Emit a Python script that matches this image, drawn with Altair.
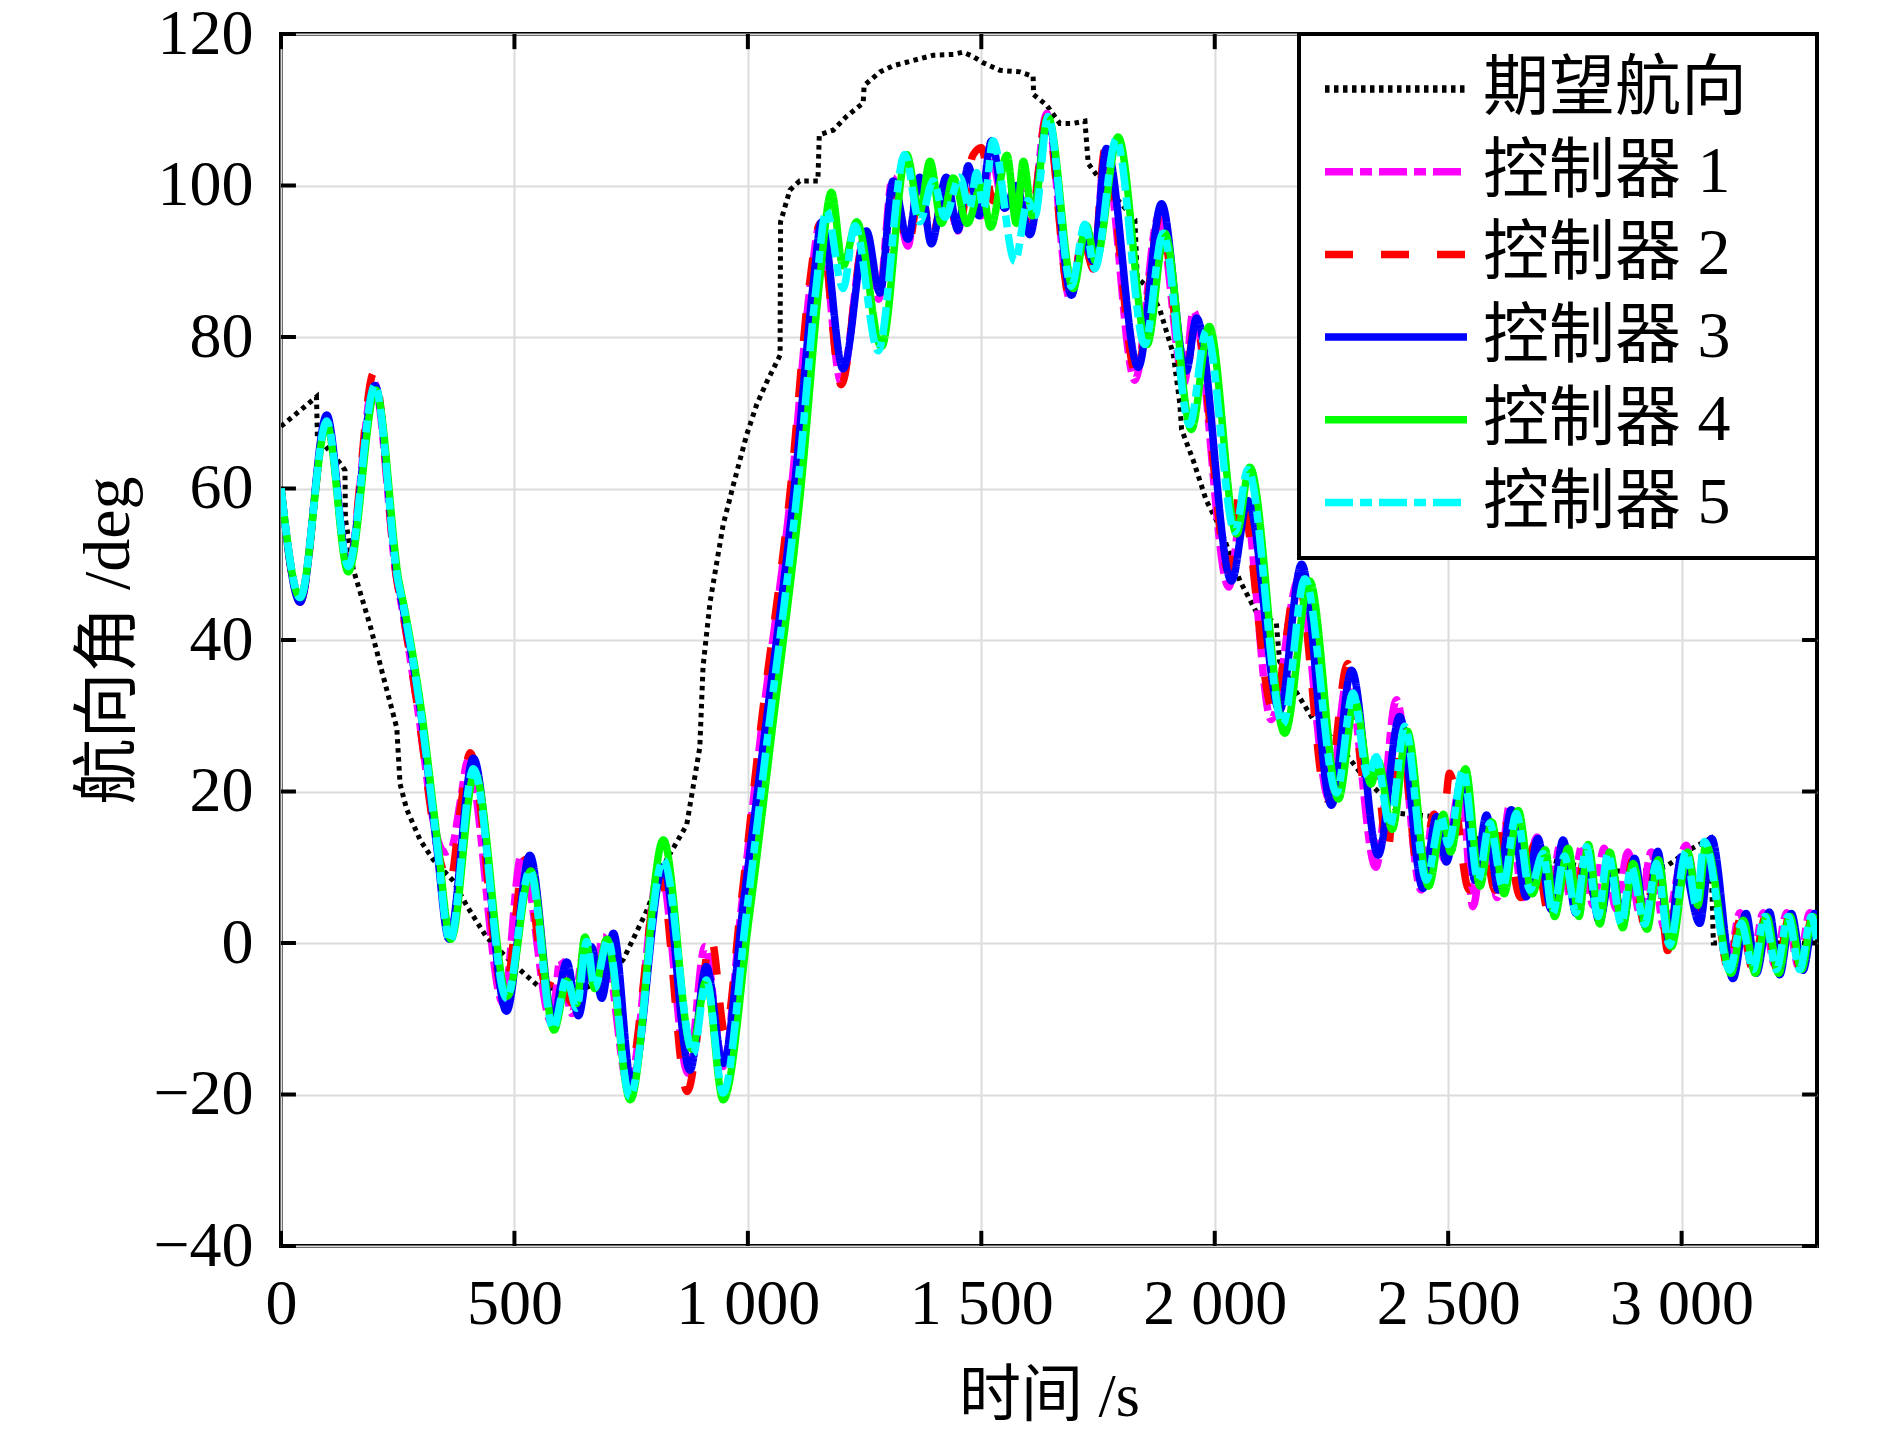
import altair as alt
import pandas as pd

FONT = "Liberation Serif, Noto Sans CJK SC, serif"

SERIES = ["期望航向", "控制器 1", "控制器 2", "控制器 3", "控制器 4", "控制器 5"]
COLORS = ["#000000", "#ff00ff", "#ff0000", "#0000ff", "#00ff00", "#00ffff"]
DASHES = [[4.5, 4.5], [28, 7, 12, 7], [28, 28], [1, 0], [1, 0], [28, 7, 12, 7]]
WIDTHS = [5, 7.5, 7.5, 7.5, 7.5, 7.5]

X_TICKS = [0, 500, 1000, 1500, 2000, 2500, 3000]
Y_TICKS = [-40, -20, 0, 20, 40, 60, 80, 100, 120]

# desired heading
t_ref = [0, 76, 78, 130, 137, 138, 155, 191, 219, 248, 255, 269, 298, 326, 369, 398, 440, 483,
         520, 555, 600, 650, 700, 733, 783, 826, 869, 897, 904, 919, 947, 969, 997, 1019, 1040,
         1069, 1070, 1090, 1111, 1150, 1153, 1183, 1211, 1247, 1249, 1283, 1311, 1354, 1397,
         1440, 1461, 1483, 1504, 1540, 1583, 1611, 1612, 1640, 1668, 1697, 1722, 1729, 1754,
         1829, 1834, 1854, 1882, 1911, 1925, 1929, 1954, 1982, 2011, 2054, 2089, 2132, 2139,
         2175, 2211, 2268, 2318, 2396, 2467, 2550, 2650, 2750, 2850, 2920, 2967, 3017, 3062,
         3068, 3290]
v_ref = [68.2, 72.1, 66.8, 63.1, 62.4, 56, 49.3, 41.9, 35.2, 28.4, 21, 17.7, 13.6, 11, 8.2, 4.9,
         0.8, -1.9, -4, -5.9, -6, -6, -4.5, -2.2, 4.2, 11, 15.6, 25.8, 36.5, 45, 55.2, 60.5, 67,
         71.1, 74, 77.6, 95.2, 99.4, 100.6, 100.6, 106.7, 107.3, 109.1, 110.9, 113.2, 115, 115.8,
         116.5, 117.2, 117.3, 117.6, 117, 116.2, 115.2, 115, 114.4, 112, 110.6, 108.2, 108.2,
         108.5, 102.9, 100.8, 95.5, 87.8, 86.7, 83.7, 77.8, 71.3, 67.8, 63.7, 58.4, 54.9, 47.8,
         43.7, 42.2, 37.2, 33.1, 29.5, 26, 22, 17.1, 16.7, 14, 12, 10.5, 9.5, 9.5, 10.1, 12.3,
         13.8, 0, 0]

# controller 1 (magenta)
t_c1 = [0, 41, 98, 144, 199, 248, 260, 295, 330, 350, 365, 385, 400, 476, 515, 580, 598, 623, 650,
        670, 690, 745, 812, 872, 908, 947, 985, 1028, 1095, 1134, 1155, 1200, 1250, 1280, 1310,
        1343, 1365, 1393, 1425, 1450, 1472, 1500, 1520, 1550, 1580, 1605, 1640, 1690, 1718, 1740,
        1765, 1829, 1880, 1935, 1954, 2030, 2062, 2121, 2180, 2245, 2285, 2345, 2389, 2442, 2470,
        2492, 2528, 2553, 2580, 2605, 2632, 2660, 2690, 2716, 2740, 2762, 2788, 2810, 2834, 2860,
        2885, 2910, 2935, 2963, 3010, 3035, 3055, 3100, 3125, 3150, 3175, 3200, 3225, 3250, 3275,
        3290]
v_c1 = [60, 45.6, 69, 49.7, 74, 48, 44, 30, 15, 12, 12.5, 19, 24, -8, 11.6, -10.6, -2.2, -9.3, -1,
        -5, 0.8, -19, 10, -17.2, -0.5, -16.3, 4, 27.6, 61, 87, 95, 74, 93, 85, 101, 92, 101, 93,
        100, 94, 102, 96, 104, 97, 100, 94, 109.5, 85, 93, 89, 104, 74.3, 96, 74, 83.4, 47, 59,
        29.5, 48, 19, 35, 10, 32.1, 7, 17, 11, 21, 4.8, 15, 6, 18.2, 6, 14, 5, 13, 6, 13, 5,
        12.5, 4.5, 12, 4, 12, 2, 12.9, 6, 13, -3, 4, -3, 4, -3, 4, -3, 4, 1]

# controller 2 (red)
t_c2 = [0, 41, 98, 144, 199, 248, 260, 295, 330, 345, 362, 385, 405, 478, 523, 569, 590, 625, 660,
        680, 698, 744, 812, 870, 922, 951, 985, 1026, 1093, 1132, 1155, 1200, 1250, 1283, 1312,
        1343, 1370, 1393, 1425, 1450, 1482, 1500, 1525, 1550, 1580, 1605, 1640, 1690, 1718, 1740,
        1765, 1832, 1883, 1937, 1958, 2030, 2054, 2125, 2178, 2240, 2285, 2325, 2345, 2370, 2395,
        2440, 2470, 2485, 2503, 2545, 2575, 2600, 2617, 2655, 2685, 2715, 2745, 2770, 2795, 2820,
        2845, 2872, 2895, 2920, 2948, 2970, 3000, 3035, 3058, 3100, 3128, 3152, 3180, 3205, 3230,
        3255, 3280, 3290]
v_c2 = [60, 45, 69, 49.7, 75.3, 48, 44, 30, 14, 10, 8, 18, 25.1, -7, 11, -5.9, -3.9, -8, -2, -6,
        1.2, -18, 9.2, -19.6, 0.4, -11.9, 5, 27.6, 61, 87, 95, 73.7, 93, 86, 100, 92, 100, 93,
        100, 94, 104, 105, 98, 100, 97, 95, 109, 85, 93, 89, 104.9, 75, 96, 74, 82, 49, 59.6,
        30.7, 48, 19, 36.9, 19.8, 23, 12, 29, 8, 17, 12, 22.4, 7, 14, 7, 17.1, 6, 13, 4, 12, 5,
        12, 3, 11, 3, 11, 2.5, 11.5, -1, 11, 4, 13, -3.5, 3.5, -3.5, 3.5, -3.5, 3.5, -3.5, 3.5, 1]

# controller 3 (blue)
t_c3 = [0, 41, 98, 144, 201, 250, 262, 298, 333, 360, 412, 483, 533, 583, 612, 637, 665, 687, 712,
        751, 819, 876, 911, 947, 990, 1036, 1101, 1140, 1158, 1204, 1254, 1283, 1311, 1343, 1368,
        1393, 1425, 1450, 1472, 1495, 1522, 1550, 1575, 1604, 1643, 1693, 1720, 1740, 1768, 1836,
        1886, 1939, 1961, 2036, 2071, 2139, 2186, 2250, 2293, 2350, 2396, 2446, 2475, 2496, 2532,
        2557, 2582, 2607, 2635, 2667, 2692, 2721, 2746, 2774, 2796, 2824, 2850, 2874, 2899, 2924,
        2949, 2974, 2999, 3039, 3064, 3110, 3138, 3160, 3188, 3210, 3235, 3260, 3285, 3290]
v_c3 = [60, 45, 69.7, 49.7, 73.6, 48, 44, 31, 13, 0.5, 24.4, -9, 11.6, -10, -2.5, -9.6, -0.5, -7.3,
        1.3, -18.5, 10.1, -16.8, -3.1, -15.9, 5, 27.6, 61, 87, 95.2, 75.8, 94, 85.8, 100.6, 92.9,
        101.1, 92.3, 101.1, 94.1, 102.6, 96, 105.9, 97, 100, 93.5, 108.8, 85.5, 93, 90, 104.9, 76,
        97.6, 75.5, 82.5, 47.8, 58.4, 30.7, 50, 18.2, 36, 11.6, 29.9, 7.2, 16.7, 10.7, 22.4, 8.3,
        16.9, 7, 17.6, 6.1, 13.8, 4.4, 13.6, 3.9, 11, 2.8, 10, 2.5, 11.2, 2, 12.1, 0, 11.4, 2.6,
        13.8, -4.7, 3.9, -4, 4.1, -4.2, 3.9, -3.6, 3.9, 2]

# controller 4 (green)
t_c4 = [0, 41, 98, 144, 203, 252, 265, 300, 335, 364, 415, 485, 535, 585, 612, 633, 651, 672, 698,
        748, 819, 880, 911, 947, 1003, 1051, 1115, 1153, 1179, 1204, 1233, 1286, 1340, 1368, 1390,
        1415, 1440, 1470, 1500, 1520, 1555, 1575, 1590, 1610, 1643, 1697, 1725, 1745, 1793, 1855,
        1893, 1950, 1988, 2047, 2075, 2150, 2203, 2265, 2300, 2335, 2350, 2380, 2412, 2458, 2490,
        2505, 2537, 2568, 2593, 2620, 2650, 2680, 2708, 2728, 2757, 2780, 2800, 2825, 2846, 2874,
        2896, 2926, 2950, 2978, 3013, 3035, 3052, 3106, 3132, 3158, 3182, 3208, 3232, 3257, 3281,
        3290]
v_c4 = [60, 45.6, 68.5, 49, 73, 48, 44, 31, 13.6, 0.5, 22.5, -7, 9.5, -11.5, -5, -8, 0.8, -6, 0.5,
        -20.7, 13.6, -14, -5, -20.7, 3.5, 27.6, 61, 87, 99.1, 89.4, 95.2, 78.7, 104.1, 96.4, 103.2,
        95, 101, 95, 100, 94.5, 104, 95, 103.2, 96, 109, 86.4, 94.7, 90, 106.4, 79, 93.7, 67.8,
        81.4, 54, 62.8, 27.7, 47.8, 19, 32, 21, 24, 15, 28, 7.5, 17, 12, 23, 7.5, 16, 6.5, 17.5,
        6.5, 12.3, 3.5, 12.5, 3.5, 13, 2.5, 12, 2, 10.5, 1.8, 11, -0.5, 12, 5, 13, -4, 3, -4, 3.5,
        -4, 3.5, -3.5, 3.5, 1]

# controller 5 (cyan)
t_c5 = [0, 41, 98, 144, 201, 250, 262, 298, 333, 362, 412, 483, 533, 583, 612, 633, 655, 672, 700,
        747, 819, 883, 911, 947, 997, 1043, 1108, 1147, 1168, 1204, 1229, 1279, 1336, 1368, 1397,
        1422, 1454, 1475, 1490, 1505, 1525, 1572, 1600, 1615, 1643, 1693, 1722, 1743, 1789, 1850,
        1889, 1946, 1982, 2043, 2071, 2146, 2193, 2261, 2296, 2328, 2346, 2375, 2407, 2453, 2485,
        2500, 2532, 2564, 2589, 2617, 2646, 2675, 2703, 2724, 2749, 2774, 2796, 2821, 2842, 2871,
        2892, 2921, 2946, 2974, 3010, 3031, 3049, 3103, 3128, 3153, 3178, 3203, 3228, 3253, 3278,
        3290]
v_c5 = [60, 45.6, 68.9, 49.7, 73.6, 48, 44.5, 31, 13.6, 0.2, 23, -7.3, 9.6, -11.3, -4.6, -8.6, 0.2,
        -5.9, 0.4, -20.3, 11, -14.6, -4.9, -19.8, 3.9, 27.6, 61, 87, 96.7, 86.4, 94.7, 78.2, 104.1,
        95.2, 100.6, 95.8, 101.1, 97, 101.7, 97, 105.9, 90, 98, 96, 109.1, 86.7, 94.9, 89, 106.1,
        79, 93.7, 68.4, 80.8, 54.3, 62.5, 28.9, 48.1, 19.8, 33, 22, 24.6, 15.4, 28.6, 8.3, 16.7,
        13, 22.8, 8.3, 15.8, 7.4, 17.1, 7, 11.8, 3.9, 11.5, 4, 12.7, 3.5, 11.8, 2.5, 10, 2.5, 10.5,
        -0.3, 12.1, 5, 13.4, -3.6, 2.6, -3.5, 3.5, -3.5, 3.5, -3.5, 3.5, 0]

SERIES_DATA = [(t_ref, v_ref), (t_c1, v_c1), (t_c2, v_c2), (t_c3, v_c3), (t_c4, v_c4), (t_c5, v_c5)]

rows = []
for name, (ts, vs) in zip(SERIES, SERIES_DATA):
    for a, b in zip(ts, vs):
        rows.append({"series": name, "t": a, "v": b})
df = pd.DataFrame(rows)

X_MAX = 3290
Y_MIN, Y_MAX = -40, 120

x_enc = alt.X("t:Q", scale=alt.Scale(domain=[0, X_MAX], nice=False, zero=False),
              axis=alt.Axis(values=X_TICKS, grid=True, ticks=False, tickSize=0, domain=False,
                            labelExpr="replace(format(datum.value, ','), ',', ' ')",
                            labelFlush=False, labelPadding=26, labelFontSize=64, labelFont=FONT,
                            titleX=768, titleY=150, titleBaseline="middle",
                            titleFontSize=62, titleFont=FONT, titleFontWeight="normal"),
              title="时间 /s")
y_enc = alt.Y("v:Q", scale=alt.Scale(domain=[Y_MIN, Y_MAX], nice=False, zero=False),
              axis=alt.Axis(values=Y_TICKS, grid=True, ticks=False, tickSize=0, domain=False,
                            labelFlush=False, labelPadding=28, labelFontSize=64, labelFont=FONT,
                            titleX=-173, titleY=606, titleAngle=270, titleAlign="center",
                            titleBaseline="middle",
                            titleFontSize=66, titleFont=FONT, titleFontWeight="normal"),
              title="航向角 /deg")

color_enc = alt.Color("series:N", scale=alt.Scale(domain=SERIES, range=COLORS),
                      legend=alt.Legend(orient="top-right", offset=0, title=None,
                                        symbolType="stroke", symbolSize=20164,
                                        symbolStrokeWidth=7.5, labelFontSize=66, labelFont=FONT,
                                        labelColor="black", padding=22, rowPadding=16.7,
                                        clipHeight=66, strokeColor="black", fillColor="white",
                                        labelOffset=12, labelLimit=700,
                                        labelExpr="datum.label + '\u2800'"))
dash_enc = alt.StrokeDash("series:N", scale=alt.Scale(domain=SERIES, range=DASHES))

layers = []
for i, name in enumerate(SERIES):
    interp = "linear" if i == 0 else "monotone"
    layers.append(
        alt.Chart(df).transform_filter(alt.datum.series == name)
        .mark_line(interpolate=interp, strokeWidth=WIDTHS[i], clip=True)
        .encode(x=x_enc, y=y_enc, color=color_enc, strokeDash=dash_enc, order="t:Q")
    )

# inward ticks on all four sides, drawn in data space
xt_len = 32
yt_len = 2
tick_rows = []
for xv in X_TICKS:
    tick_rows.append({"t": xv, "t2": xv, "v": Y_MIN, "v2": Y_MIN + yt_len})
    tick_rows.append({"t": xv, "t2": xv, "v": Y_MAX, "v2": Y_MAX - yt_len})
for yv in Y_TICKS:
    tick_rows.append({"t": 0, "t2": xt_len, "v": yv, "v2": yv})
    tick_rows.append({"t": X_MAX, "t2": X_MAX - xt_len, "v": yv, "v2": yv})
ticks_df = pd.DataFrame(tick_rows)

ticks = alt.Chart(ticks_df).mark_rule(color="black", strokeWidth=4).encode(
    x=x_enc, x2=alt.X2("t2:Q"), y=y_enc, y2=alt.Y2("v2:Q"))

chart = alt.layer(ticks, *layers).properties(
    width=1536, height=1212,
    autosize=alt.AutoSizeParams(type="none"),
    padding={"left": 273, "top": 26, "right": 65, "bottom": 186},
    background="white",
).configure_view(stroke="black", strokeWidth=4).configure_axis(
    gridColor="#dcdcdc", gridWidth=2, labelColor="black", titleColor="black"
).configure_legend(strokeWidth=4)

chart.save("out.html", embed_options={"renderer": "svg", "actions": False})
